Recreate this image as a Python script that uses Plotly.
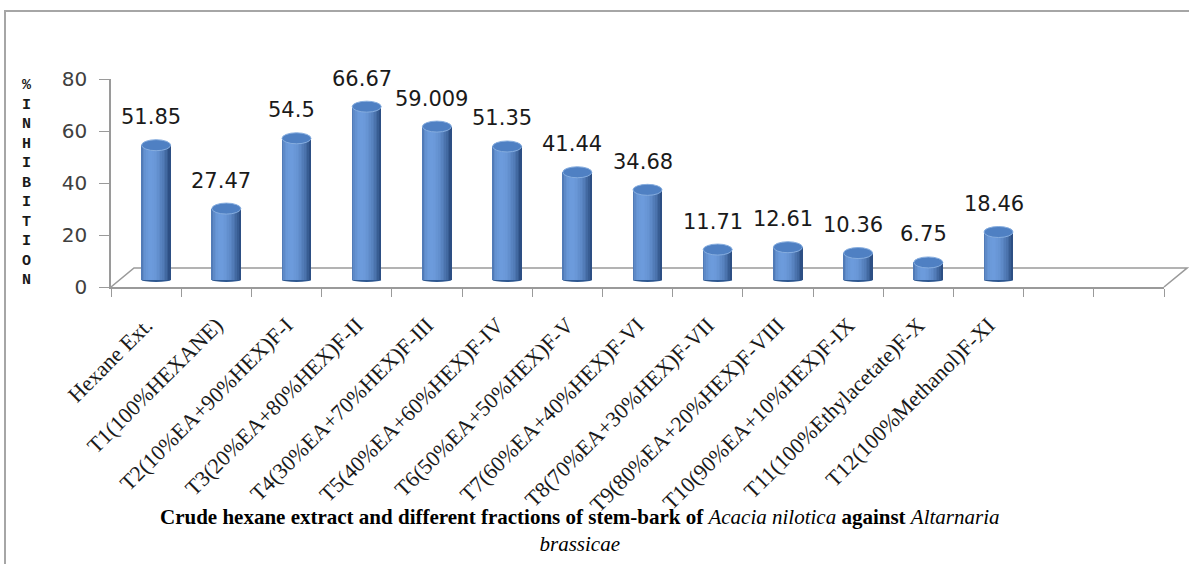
import math
import plotly.graph_objects as go

# ---- data -------------------------------------------------------------
categories = [
    "Hexane Ext.",
    "T1(100%HEXANE)",
    "T2(10%EA+90%HEX)F-I",
    "T3(20%EA+80%HEX)F-II",
    "T4(30%EA+70%HEX)F-III",
    "T5(40%EA+60%HEX)F-IV",
    "T6(50%EA+50%HEX)F-V",
    "T7(60%EA+40%HEX)F-VI",
    "T8(70%EA+30%HEX)F-VII",
    "T9(80%EA+20%HEX)F-VIII",
    "T10(90%EA+10%HEX)F-IX",
    "T11(100%Ethylacetate)F-X",
    "T12(100%Methanol)F-XI",
]
inhibition = [51.85, 27.47, 54.5, 66.67, 59.009, 51.35, 41.44, 34.68,
              11.71, 12.61, 10.36, 6.75, 18.46]
y_ticks = [0, 20, 40, 60, 80]
n_slots = 15  # category slots on the floor (two trailing slots are empty)

# ---- page geometry (pixels) ------------------------------------------
W, H = 1189, 564
L, R, T, B = 111, 25, 79, 277
PW, PH = W - L - R, H - T - B
SLOT = PW / n_slots            # px per category slot
YPX = PH / 80.0                # px per percent
DEPTH_X, DEPTH_Y = 23, 19      # floor depth offset
BAR_DX, BAR_DY = 10, 7         # cylinders stand in the middle of the floor
CYL_W = 29 / SLOT              # cylinder width in category units
ELL_H = 5.5 / YPX              # half height of the cylinder cap (y units)


def paper_x(px):
    return (px - L) / PW


def paper_y(py):
    return 1 - (py - T) / PH


positions = list(range(len(categories)))

fig = go.Figure()

# invisible anchors so every axis gets drawn
fig.add_trace(go.Scatter(x=[0], y=[0], mode="markers", marker=dict(opacity=0),
                         hoverinfo="skip", showlegend=False))
fig.add_trace(go.Scatter(x=positions, y=[0] * len(positions), xaxis="x3", yaxis="y",
                         mode="markers", marker=dict(opacity=0),
                         hoverinfo="skip", showlegend=False))

# ---- cylinders: vertical shaded strips --------------------------------
dark = (34, 66, 116)
light = (108, 155, 220)
N = 18
sw = CYL_W / N
for i in range(N):
    t = -1 + (2 * i + 1) / N
    theta = math.asin(max(-1, min(1, t)))
    k = max(0.0, math.cos(theta + 0.35)) ** 1.2
    k = 0.15 + 0.85 * k
    col = "rgb({},{},{})".format(*[round(d + (l - d) * k) for d, l in zip(dark, light)])
    fig.add_trace(go.Bar(
        x=positions, y=inhibition, xaxis="x2", yaxis="y2",
        offset=-CYL_W / 2 + i * sw, width=sw * 1.15,
        marker=dict(color=col, line=dict(width=0)),
        hoverinfo="skip", showlegend=False,
    ))

shapes = []
annotations = []
for p, v in zip(positions, inhibition):
    # rounded foot of the cylinder
    shapes.append(dict(type="circle", xref="x2", yref="y2", layer="below",
                       x0=p - CYL_W / 2, x1=p + CYL_W / 2,
                       y0=-ELL_H * 0.35, y1=ELL_H * 0.35,
                       fillcolor="#2d5790", line=dict(width=0)))
    # cap
    shapes.append(dict(type="circle", xref="x2", yref="y2",
                       x0=p - CYL_W / 2, x1=p + CYL_W / 2,
                       y0=v - ELL_H, y1=v + ELL_H,
                       fillcolor="#4f80c3", line=dict(color="#86addf", width=1)))
    annotations.append(dict(x=p, y=v, xref="x2", yref="y2", text=str(v),
                            showarrow=False, yanchor="bottom", xshift=-5, yshift=14,
                            font=dict(family="DejaVu Sans", size=21, color="#1a1a1a")))

# ---- floor ------------------------------------------------------------
fx0, fx1 = paper_x(L), paper_x(L + PW)
fy0 = paper_y(T + PH)
bx0, bx1 = paper_x(L + DEPTH_X), paper_x(L + PW + DEPTH_X)
by = paper_y(T + PH - DEPTH_Y)
shapes.append(dict(type="path", xref="paper", yref="paper", layer="below",
                   path=f"M {fx0},{fy0} L {bx0},{by} L {bx1},{by} L {fx1},{fy0}",
                   line=dict(color="#9a9a9a", width=1.6)))

# outer chart frame
shapes.append(dict(type="path", xref="paper", yref="paper",
                   path=f"M {paper_x(5)},{paper_y(H + 20)} L {paper_x(5)},{paper_y(11)} "
                        f"L {paper_x(W + 20)},{paper_y(11)}",
                   line=dict(color="#a6a6a6", width=2)))

# vertical axis title, one letter per line
annotations.append(dict(
    x=paper_x(27), y=paper_y(183), xref="paper", yref="paper",
    text="<br>".join("%INHIBITION"), showarrow=False,
    xanchor="center", yanchor="middle", align="center",
    font=dict(family="Liberation Mono", size=15, color="#1a1a1a", weight="bold"),
))

# horizontal axis title
annotations.append(dict(
    x=paper_x(580), y=paper_y(530), xref="paper", yref="paper",
    text="<b>Crude hexane extract and different fractions of stem-bark of </b>"
         "<i>Acacia nilotica</i><b> against </b><i>Altarnaria</i><br><i>brassicae</i>",
    showarrow=False, xanchor="center", yanchor="middle", align="center",
    font=dict(family="Liberation Serif", size=21, color="#000000"),
))

xrange = [-0.5, n_slots - 0.5]
fig.update_layout(
    width=W, height=H,
    margin=dict(l=L, r=R, t=T, b=B, pad=0),
    paper_bgcolor="white", plot_bgcolor="rgba(0,0,0,0)",
    barmode="overlay", bargap=0,
    showlegend=False,
    shapes=shapes, annotations=annotations,
    xaxis=dict(range=xrange, showgrid=False, zeroline=False,
               showline=True, linecolor="#9a9a9a", linewidth=1.6,
               tickvals=[b - 0.5 for b in range(n_slots + 1)],
               ticks="outside", ticklen=8, tickcolor="#9a9a9a", tickwidth=1.4,
               showticklabels=False),
    xaxis3=dict(range=xrange, overlaying="x", showgrid=False, zeroline=False,
                showline=False, tickvals=positions, ticktext=categories,
                tickangle=-45, ticks="", ticklabelstandoff=20,
                tickfont=dict(family="Liberation Serif", size=22, color="#1a1a1a")),
    yaxis=dict(range=[0, 80], tickvals=y_ticks, showgrid=False, zeroline=False,
               showline=True, linecolor="#9a9a9a", linewidth=1.6,
               ticks="outside", ticklen=10, tickcolor="#9a9a9a", tickwidth=1.4,
               ticklabelstandoff=8,
               tickfont=dict(family="DejaVu Sans", size=20, color="#404040")),
    xaxis2=dict(range=[xrange[0] - BAR_DX / SLOT, xrange[1] - BAR_DX / SLOT],
                overlaying="x", visible=False),
    yaxis2=dict(range=[-BAR_DY / YPX, 80 - BAR_DY / YPX], overlaying="y", visible=False),
)

fig.write_html("out.html")
